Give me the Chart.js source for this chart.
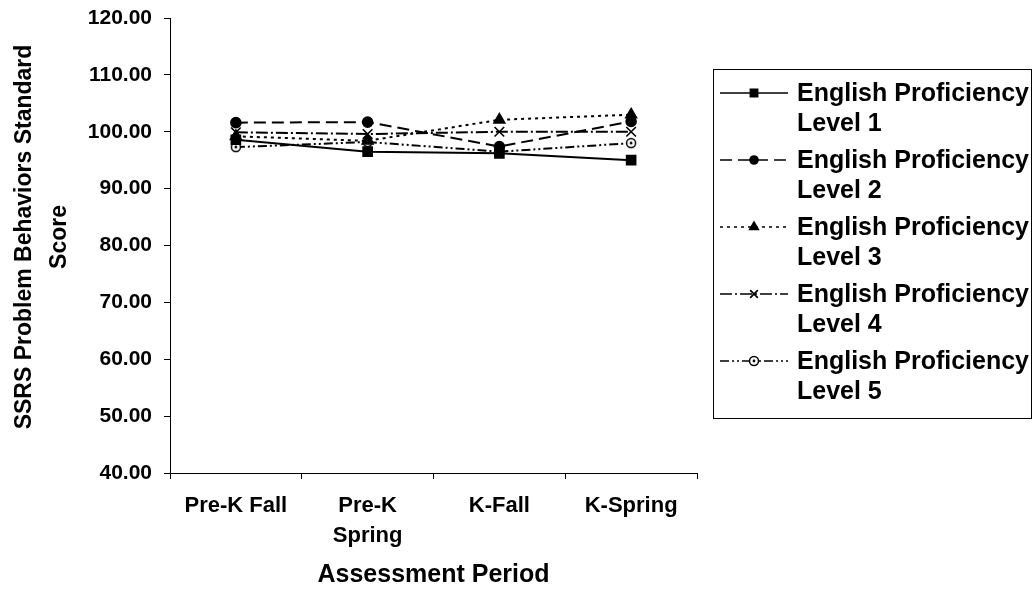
<!DOCTYPE html>
<html>
<head>
<meta charset="utf-8">
<script src="https://cdn.jsdelivr.net/npm/chart.js@4.4.1/dist/chart.umd.min.js"></script>
<style>
  html, body { margin: 0; padding: 0; background: #fff; }
  #wrap { width: 1034px; height: 590px; position: relative; }
</style>
</head>
<body>
<div id="wrap"><canvas id="c" width="1034" height="590"></canvas></div>
<script>
// ---- data ----
const categories = [['Pre-K Fall'], ['Pre-K', 'Spring'], ['K-Fall'], ['K-Spring']];
const yTickValues = [40, 50, 60, 70, 80, 90, 100, 110, 120];
const seriesNames = [
  'English Proficiency Level 1',
  'English Proficiency Level 2',
  'English Proficiency Level 3',
  'English Proficiency Level 4',
  'English Proficiency Level 5'
];
const level1 = [98.6, 96.5, 96.2, 95.0];
const level2 = [101.6, 101.7, 97.4, 101.8];
const level3 = [99.2, 98.4, 102.1, 103.0];
const level4 = [99.9, 99.6, 100.0, 100.0];
const level5 = [97.3, 98.2, 96.5, 98.0];
const yTitle = ['SSRS Problem Behaviors Standard', 'Score'];
const xTitle = 'Assessment Period';

// ---- styles ----
const FONT = '"Liberation Sans", Arial, sans-serif';

function makeDotCircle() {
  const c = document.createElement('canvas');
  c.width = 12; c.height = 12;
  const g = c.getContext('2d');
  g.fillStyle = '#fff';
  g.strokeStyle = '#000';
  g.lineWidth = 1.5;
  g.beginPath(); g.arc(6, 6, 4.5, 0, Math.PI * 2); g.fill(); g.stroke();
  g.fillStyle = '#000';
  g.beginPath(); g.arc(6, 6, 1.4, 0, Math.PI * 2); g.fill();
  return c;
}
const dotCircle = makeDotCircle();

const styleList = [
  { dash: [], pointStyle: 'rect', radius: 6.4, fill: '#000' },
  { dash: [12, 6], pointStyle: 'circle', radius: 5, fill: '#000' },
  { dash: [3, 4], pointStyle: 'triangle', radius: 6.2, fill: '#000' },
  { dash: [12, 3, 2, 3], pointStyle: 'crossRot', radius: 6.8, fill: '#000' },
  { dash: [9, 3, 2, 3, 2, 3], pointStyle: dotCircle, radius: 6, fill: '#fff' }
];

const seriesValues = [level1, level2, level3, level4, level5];
const datasets = seriesValues.map((vals, i) => ({
  label: seriesNames[i],
  data: vals,
  borderColor: '#000',
  backgroundColor: styleList[i].fill,
  borderWidth: 2,
  borderDash: styleList[i].dash,
  pointStyle: styleList[i].pointStyle,
  pointRadius: styleList[i].radius,
  pointHoverRadius: styleList[i].radius,
  pointBorderColor: '#000',
  pointBackgroundColor: styleList[i].fill,
  pointBorderWidth: 1.6,
  tension: 0,
  fill: false
}));

// ---- y-axis title (two centred lines, rotated) ----
const yTitlePlugin = {
  id: 'yTitlePlugin',
  afterDraw(chart) {
    const ctx = chart.ctx;
    ctx.save();
    ctx.fillStyle = '#000';
    ctx.font = 'bold 23px ' + FONT;
    ctx.textAlign = 'center';
    ctx.textBaseline = 'middle';
    const cy = 237;
    const xs = [25, 60];
    yTitle.forEach((line, i) => {
      ctx.save();
      ctx.translate(xs[i], cy);
      ctx.rotate(-Math.PI / 2);
      ctx.fillText(line, 0, 0);
      ctx.restore();
    });
    ctx.restore();
  }
};

// ---- custom legend (box with two-line labels) ----
const boxLegend = {
  id: 'boxLegend',
  afterDraw(chart) {
    const ctx = chart.ctx;
    const bx = 713.5, by = 69.5, bw = 318, bh = 349;
    ctx.save();
    ctx.strokeStyle = '#000';
    ctx.lineWidth = 1;
    ctx.setLineDash([]);
    ctx.strokeRect(bx, by, bw, bh);
    chart.data.datasets.forEach((ds, i) => {
      const y = 93 + 67 * i;
      ctx.save();
      ctx.strokeStyle = ds.borderColor;
      ctx.lineWidth = 1.6;
      ctx.setLineDash(ds.borderDash || []);
      ctx.beginPath();
      ctx.moveTo(720, y);
      ctx.lineTo(788, y);
      ctx.stroke();
      ctx.restore();
      ctx.save();
      ctx.strokeStyle = ds.pointBorderColor;
      ctx.fillStyle = ds.pointBackgroundColor;
      ctx.lineWidth = ds.pointBorderWidth;
      Chart.helpers.drawPoint(ctx, {
        pointStyle: ds.pointStyle,
        radius: ds.pointRadius * 0.8,
        rotation: 0,
        borderWidth: ds.pointBorderWidth
      }, 754, y);
      ctx.restore();
      const words = ds.label.split(' ');
      const line1 = words.slice(0, 2).join(' ');
      const line2 = words.slice(2).join(' ');
      ctx.fillStyle = '#000';
      ctx.font = 'bold 25px ' + FONT;
      ctx.textAlign = 'left';
      ctx.textBaseline = 'middle';
      ctx.fillText(line1, 797, y + 1);
      ctx.fillText(line2, 797, y + 31);
    });
    ctx.restore();
  }
};

new Chart(document.getElementById('c'), {
  type: 'line',
  data: { labels: categories, datasets: datasets },
  plugins: [boxLegend, yTitlePlugin],
  options: {
    responsive: false,
    animation: false,
    devicePixelRatio: 1,
    layout: { padding: { left: 0, right: 337, top: 18, bottom: 0 } },
    plugins: {
      legend: { display: false },
      tooltip: { enabled: false },
      title: { display: false }
    },
    scales: {
      x: {
        type: 'category',
        offset: true,
        grid: { display: true, drawOnChartArea: false, drawTicks: true, tickLength: 6, color: '#000', offset: true },
        border: { display: true, color: '#000', width: 1 },
        ticks: {
          color: '#000',
          font: { family: FONT, size: 22, weight: 'bold', lineHeight: 1.36 },
          padding: 12,
          maxRotation: 0,
          autoSkip: false
        },
        title: {
          display: true,
          text: xTitle,
          color: '#000',
          font: { family: FONT, size: 25, weight: 'bold', lineHeight: 1.2 },
          padding: { top: 12, bottom: 0 }
        },
        afterFit(scale) { scale.height = 117; }
      },
      y: {
        min: 40,
        max: 120,
        afterBuildTicks(scale) { scale.ticks = yTickValues.map(v => ({ value: v })); },
        grid: { display: true, drawOnChartArea: false, drawTicks: true, tickLength: 6, color: '#000' },
        border: { display: true, color: '#000', width: 1 },
        ticks: {
          color: '#000',
          font: { family: FONT, size: 21, weight: 'bold', lineHeight: 0.5 },
          padding: 12,
          callback: (v) => Number(v).toFixed(2)
        },
        title: { display: false },
        afterFit(scale) { scale.width = 170; }
      }
    }
  }
});
</script>
</body>
</html>
